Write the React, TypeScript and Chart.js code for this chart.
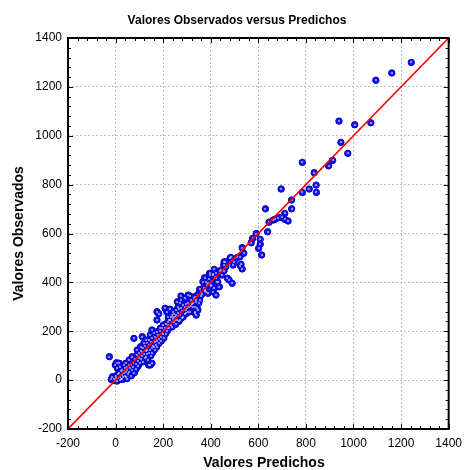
import React, { useEffect, useRef } from 'react';
import { Chart, registerables } from 'chart.js';
Chart.register(...registerables);

const titulo = 'Valores Observados versus Predichos';
const tituloX = 'Valores Predichos';
const tituloY = 'Valores Observados';

const ejeMin = -200;
const ejeMax = 1400;
const pasoMayor = 200;
const pasoMenor = 40;

// Valores predichos (eje X)
const predichos = [
  -26, -18, -13, -8, -4, -1, 1, 3, 4, 6,
  8, 10, 12, 15, 15, 17, 18, 20, 22, 24,
  26, 29, 29, 32, 34, 36, 38, 40, 43, 43,
  45, 48, 50, 50, 52, 55, 57, 58, 62, 64,
  66, 68, 70, 72, 75, 77, 79, 82, 84, 86,
  89, 91, 93, 95, 98, 100, 102, 105, 106, 108,
  110, 112, 112, 115, 117, 119, 120, 122, 124, 126,
  126, 128, 130, 132, 133, 135, 137, 139, 139, 140,
  142, 144, 146, 146, 146, 148, 150, 152, 153, 153,
  153, 155, 157, 160, 160, 162,
  164, 167, 167, 168, 170, 172, 174, 174, 174, 176,
  178, 181, 181, 182, 184, 186, 188, 190, 192, 194,
  196, 198, 201, 203, 205, 208, 208, 210, 212, 215,
  215, 217, 219, 222, 222, 224, 226, 229, 229, 231,
  233, 236, 236, 238, 240, 243, 243, 245, 247, 250,
  250, 252, 254, 256, 258, 260, 261, 263, 263, 265,
  267, 270, 270, 272, 275, 277, 277, 279, 281, 284,
  284, 287, 290, 291, 291, 294, 298, 298, 300, 303,
  305, 305, 308, 312, 312, 316, 318, 320, 325, 325,
  328, 332, 332, 332, 335, 336, 339, 339, 343, 346,
  346, 350, 353, 353,
  357, 360, 363, 367, 370, 374, 374, 377, 380, 381,
  385, 387, 388, 392, 395, 397, 400, 402, 405, 408,
  408, 411, 415, 415, 418, 422, 422, 423, 426, 429,
  436, 438, 443, 447, 455, 456, 456, 462, 463, 470,
  477, 481, 484, 490, 494, 498, 512, 523, 525, 527,
  532, 532, 539,
  570, 576, 591, 601, 608, 608, 614, 630, 639, 645,
  663, 670, 684, 696, 698, 711, 711, 725, 740, 740,
  785, 785, 814, 835, 843, 844, 895, 912, 939, 947,
  976, 1005, 1073, 1094, 1161, 1243,
];

// Valores observados (eje Y)
const observados = [
  96, 3, 14, 6, -2, 62, 7, 18, 71, -4,
  48, 10, 25, 28, 69, 2, 55, 14, 36, 5,
  22, 41, 3, 12, 30, 62, 18, 48, 14, 69,
  32, 6, 41, 55, 24, 62, 82, 35, 50, 62,
  18, 40, 96, 72, 55, 171, 30, 88, 64, 45,
  102, 123, 78, 58, 110, 92, 70, 137, 118, 85,
  100, 116, 178, 75, 130, 151, 108, 92, 140, 96,
  164, 120, 105, 123, 150, 82, 135, 62, 164, 112,
  145, 125, 62, 144, 185, 100, 155, 130, 69, 171,
  205, 112, 140, 137, 192, 160,
  125, 157, 178, 145, 168, 135, 198, 246, 280, 160,
  185, 272, 185, 150, 170, 200, 212, 178, 160, 192,
  215, 188, 226, 172, 205, 212, 294, 190, 228, 280,
  212, 200, 238, 226, 259, 212, 248, 246, 290, 225,
  260, 239, 266, 218, 250, 259, 280, 236, 272, 246,
  259, 228, 285, 266, 248, 321, 276, 262, 300, 240,
  290, 246, 314, 268, 344, 294, 328, 256, 282, 259,
  307, 287, 270, 300, 335, 288, 273, 311, 296, 280,
  314, 348, 298, 280, 344, 303, 328, 312, 300, 317,
  338, 280, 298, 341, 273, 320, 266, 328, 294, 287,
  350, 316, 328, 371,
  345, 362, 352, 403, 378, 369, 419, 366, 403, 362,
  388, 396, 355, 413, 437, 430, 385, 389, 407, 362,
  430, 434, 375, 453, 420, 348, 437, 417, 403, 403,
  382, 445, 450, 430, 472, 448, 484, 484, 464, 417,
  410, 498, 502, 396, 471, 484, 502, 505, 468, 474,
  455, 542, 519,
  562, 580, 600, 539, 556, 576, 512, 701, 607, 646,
  655, 658, 665, 782, 666, 682, 658, 651, 701, 737,
  768, 891, 782, 849, 798, 768, 877, 899, 1060, 973,
  928, 1045, 1053, 1227, 1257, 1300,
];

const lineaX = [ejeMin, ejeMax];

const FUENTE = '"Liberation Sans", Arial, Helvetica, sans-serif';

export default function App() {
  const ref = useRef<HTMLCanvasElement | null>(null);

  useEffect(() => {
    const canvas = ref.current;
    if (!canvas) return;

    const puntos = predichos.map((x, i) => ({ x, y: observados[i] }));
    const linea = lineaX.map((v) => ({ x: v, y: v }));

    // white highlight stroke on each marker (drawn before the red line)
    const brillo = {
      id: 'brillo',
      afterDatasetDraw(chart: any, args: any) {
        if (args.index !== 1) return;
        const { ctx } = chart;
        ctx.save();
        ctx.fillStyle = '#ffffff';
        for (const el of args.meta.data) {
          const x = Math.round(el.x);
          const y = Math.round(el.y);
          ctx.fillRect(x - 1, y - 0.5, 2, 1);
        }
        ctx.restore();
      },
    };

    const marco = {
      id: 'marco',
      afterDraw(chart: any) {
        const { ctx, chartArea: a, scales } = chart;
        const sx = scales.x;
        const sy = scales.y;
        ctx.save();
        ctx.strokeStyle = '#000';
        ctx.lineWidth = 1;
        ctx.beginPath();
        for (let v = ejeMin; v <= ejeMax; v += pasoMenor) {
          const major = (v - ejeMin) % pasoMayor === 0;
          const len = major ? 5 : 3;
          const px = Math.round(sx.getPixelForValue(v)) + 0.5;
          ctx.moveTo(px, a.bottom);
          ctx.lineTo(px, a.bottom - len);
          ctx.moveTo(px, a.top);
          ctx.lineTo(px, a.top + len);
          const py = Math.round(sy.getPixelForValue(v)) + 0.5;
          ctx.moveTo(a.left, py);
          ctx.lineTo(a.left + len, py);
          ctx.moveTo(a.right, py);
          ctx.lineTo(a.right - len, py);
        }
        ctx.stroke();
        ctx.lineWidth = 2;
        ctx.strokeRect(a.left, a.top, a.right - a.left, a.bottom - a.top);

        ctx.fillStyle = '#000';
        ctx.textAlign = 'center';
        ctx.textBaseline = 'middle';
        ctx.font = `bold 12px ${FUENTE}`;
        ctx.fillText(titulo, 237, 21);
        ctx.font = `bold 14px ${FUENTE}`;
        ctx.fillText(tituloX, 264, 463);
        ctx.translate(19, (a.top + a.bottom) / 2);
        ctx.rotate(-Math.PI / 2);
        ctx.fillText(tituloY, 0, 0);
        ctx.restore();
      },
    };

    const ejeComun = (padding: number) => ({
      type: 'linear' as const,
      min: ejeMin,
      max: ejeMax,
      ticks: {
        stepSize: pasoMayor,
        color: '#000',
        padding,
        maxRotation: 0,
        font: { size: 12, family: FUENTE },
        callback: (v: any) => String(v),
      },
      grid: { color: '#bdbdbd', drawTicks: false, lineWidth: 1 },
      border: { display: false, dash: [2, 2] },
    });

    const chart = new Chart(canvas, {
      type: 'scatter',
      data: {
        datasets: [
          {
            data: linea,
            showLine: true,
            borderColor: '#ff0000',
            borderWidth: 1.6,
            pointRadius: 0,
            order: 0,
          },
          {
            data: puntos,
            pointStyle: 'circle',
            pointRadius: 3.2,
            backgroundColor: '#1414ff',
            borderColor: '#0000b0',
            borderWidth: 1,
            order: 1,
          },
        ],
      },
      options: {
        responsive: false,
        animation: false,
        devicePixelRatio: 1,
        layout: { padding: { top: 38, right: 14, left: 0, bottom: 0 } },
        plugins: {
          legend: { display: false },
          tooltip: { enabled: false },
          title: { display: false },
        },
        scales: {
          x: {
            ...ejeComun(7),
            afterFit: (s: any) => {
              s.height = 41;
            },
          },
          y: {
            ...ejeComun(6),
            afterFit: (s: any) => {
              s.width = 68;
            },
          },
        },
      } as any,
      plugins: [brillo, marco],
    });

    return () => chart.destroy();
  }, []);

  return (
    <div
      style={{
        position: 'fixed',
        left: 0,
        top: 0,
        width: 469,
        height: 470,
        background: '#fff',
      }}
    >
      <canvas ref={ref} width={469} height={470} style={{ display: 'block' }} />
    </div>
  );
}
